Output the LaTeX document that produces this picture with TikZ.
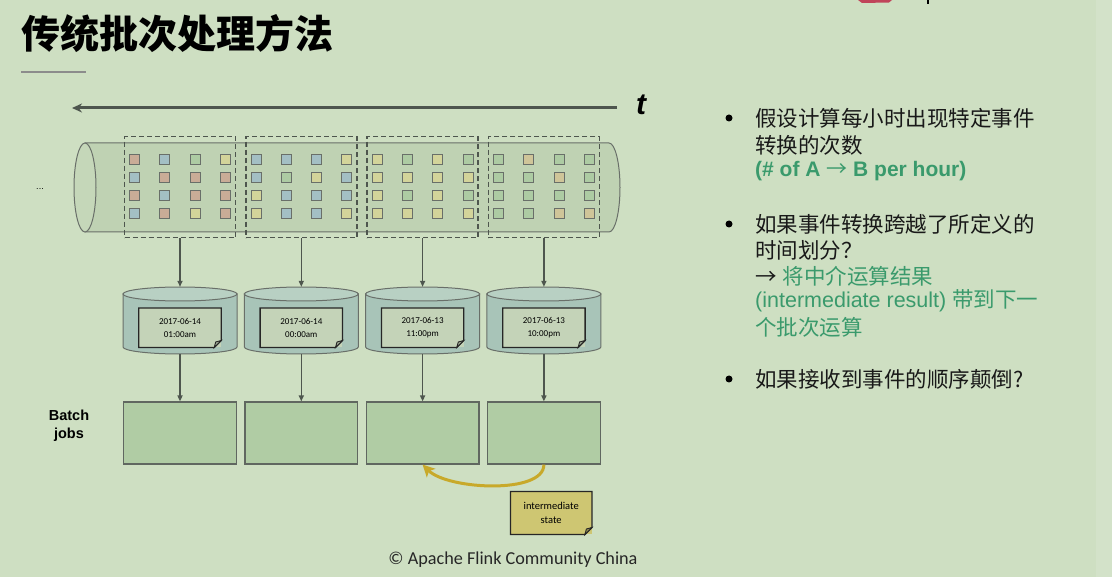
\documentclass[tikz,border=0pt]{standalone}
\usepackage{fontspec}
\setmainfont{Liberation Sans}
\newfontfamily\cjk{Noto Sans CJK SC}
\newfontfamily\calfont{Carlito}
\usetikzlibrary{arrows.meta}
\definecolor{bg}{HTML}{CEDFC2}
\definecolor{strip}{HTML}{D3E2C9}
\definecolor{linegray}{HTML}{4E564E}
\definecolor{tubefill}{HTML}{BFD2B3}
\definecolor{tubeend}{HTML}{C5D7B9}
\definecolor{cylbody}{HTML}{A8C4B8}
\definecolor{cyltop}{HTML}{B8D0C3}
\definecolor{notefill}{HTML}{C4D3B8}
\definecolor{yelnote}{HTML}{CEC672}
\definecolor{batchfill}{HTML}{B0CCA4}
\definecolor{arrowyel}{HTML}{C8A92A}
\definecolor{grn}{HTML}{3A9A6C}
\definecolor{sqB}{HTML}{C9AC97}
\definecolor{sqL}{HTML}{A3BFC4}
\definecolor{sqG}{HTML}{ADCBA3}
\definecolor{sqY}{HTML}{D3D49A}
\definecolor{sqT}{HTML}{CFC599}
\definecolor{logored}{HTML}{C0445A}
\tikzset{
  segbox/.style={draw=linegray, dashed, dash pattern=on 5pt off 3pt, line width=1.5pt, minimum width=111pt, minimum height=101pt, inner sep=0},
  cylspot/.style={minimum width=114pt, minimum height=67pt, inner sep=0},
  datenote/.style={fill=notefill, minimum width=82pt, minimum height=39pt, inner sep=0, align=center, font=\calfont\fontsize{9}{13}\selectfont},
  batchbox/.style={draw=linegray!90, fill=batchfill, line width=1.2pt, minimum width=112.6pt, minimum height=62pt, inner sep=0},
  flowarrow/.style={draw=linegray, line width=1.5pt, -{Triangle[length=6pt,width=5pt]}},
  rtext/.style={anchor=west, inner sep=0, font=\fontsize{21.5}{26}\selectfont, text=black!90},
  bulletdot/.style={circle, fill=black, inner sep=0, minimum size=7pt},
  sq/.style={draw=linegray!85, line width=0.8pt}
}
\newcommand\dogear[2]{%
  \draw[black!85, line width=1.3pt] (#1.north west) -- (#1.north east) -- ([yshift=7pt]#1.south east) -- ([xshift=-7pt]#1.south east) -- (#1.south west) -- cycle;
  \filldraw[black!85, fill=#2, line width=0.9pt] ([yshift=7pt]#1.south east) -- ([xshift=-7pt]#1.south east) -- ([xshift=-5.5pt,yshift=5.5pt]#1.south east) -- cycle;}
\begin{document}
\begin{tikzpicture}[x=1pt,y=-1pt]
\useasboundingbox (0,0) rectangle (1112,577);
\fill[bg] (0,0) rectangle (1112,577);
\fill[strip] (1096,0) rectangle (1112,577);
% partial logo at top edge
\fill[logored] (858,0) -- (892,0) -- (889,2.5) -- (862,3) -- cycle;
\fill[black] (926.5,0) rectangle (929,4.5);
% title
\node[anchor=west, inner sep=0, font=\cjk\bfseries\fontsize{39}{44}\selectfont] (title) at (21,34) {传统批次处理方法};
\coordinate (ulA) at (21,72);
\coordinate (ulB) at (86,72);
\draw[black!45, line width=1.8pt] (ulA) -- (ulB);
% time arrow
\coordinate (tR) at (617,108);
\coordinate (tL) at (72,108);
\draw[draw=linegray, line width=3pt, -{Stealth[length=10pt,width=9pt]}] (tR) -- (tL);
\node[inner sep=0, font=\bfseries\itshape\fontsize{30}{30}\selectfont] (tlab) at (641,105) {t};
% tube
\filldraw[fill=tubefill, draw=linegray!85, line width=1pt] (85,143) -- (609,143) arc[start angle=-90, end angle=90, x radius=11, y radius=44.5] -- (85,232) -- cycle;
\filldraw[fill=tubeend, draw=linegray!85, line width=1pt] (85,187.5) ellipse [x radius=11, y radius=44.5];
\node[inner sep=0, font=\fontsize{9}{9}\selectfont] (dots) at (40,189) {...};
% squares
\foreach \i/\cols in {0/{B,L,G,Y,L,B,B,B,B,L,B,B,L,B,Y,B},
                      1/{L,L,L,Y,L,G,Y,L,Y,L,L,L,Y,L,L,Y},
                      2/{Y,G,Y,G,Y,Y,Y,Y,Y,G,Y,G,Y,Y,Y,Y},
                      3/{G,T,G,G,G,G,T,G,G,G,G,G,G,G,T,T}} {
  \foreach \c [count=\k from 0] in \cols {
    \pgfmathsetmacro\row{int(\k/4)}
    \pgfmathsetmacro\col{mod(\k,4)}
    \pgfmathsetmacro\cx{180+121.3*\i-45.4+30.27*\col}
    \pgfmathsetmacro\cy{159.3+18*\row}
    \filldraw[sq, fill=sq\c] (\cx-5,\cy-5) rectangle (\cx+5,\cy+5);
  }
}
% dashed segments, cylinders, batch boxes
\foreach \i in {1,...,4} {
  \pgfmathsetmacro\X{180+121.3*(\i-1)}
  \node[segbox] (s\i) at (\X,187.2) {};
  \node[cylspot] (c\i) at (\X,320.5) {};
  \filldraw[fill=cylbody, draw=linegray!85, line width=1pt] (\X-57,294) -- (\X-57,347) arc[start angle=180, end angle=0, x radius=57, y radius=7] -- (\X+57,294) -- cycle;
  \filldraw[fill=cyltop, draw=linegray!85, line width=1pt] (\X,294) ellipse [x radius=57, y radius=7];
  \node[batchbox] (b\i) at (\X,433) {};
  \draw[flowarrow] (s\i.south) -- (c\i.north);
  \draw[flowarrow] (c\i.south) -- (b\i.north);
}
\node[datenote] (n1) at (180,327.8) {2017-06-14\\01:00am};
\node[datenote] (n2) at (301.3,327.8) {2017-06-14\\00:00am};
\node[datenote] (n3) at (422.6,327.8) {2017-06-13\\11:00pm};
\node[datenote] (n4) at (543.9,327.8) {2017-06-13\\10:00pm};
\dogear{n1}{notefill!80!black}
\dogear{n2}{notefill!80!black}
\dogear{n3}{notefill!80!black}
\dogear{n4}{notefill!80!black}
% batch label
\node[align=center, inner sep=0, font=\bfseries\fontsize{14.5}{18}\selectfont] (batch) at (69,426) {Batch\\jobs};
% intermediate state
\draw[draw=arrowyel, line width=3pt, -{Stealth[length=12pt,width=12pt,inset=3pt]}] (b4.south) .. controls +(0,30) and +(25,25) .. (b3.south);
\node[fill=yelnote, minimum width=81pt, minimum height=42.6pt, inner sep=0, align=center, font=\calfont\fontsize{10.5}{14}\selectfont] (inter) at (551.2,513) {intermediate\\state};
\dogear{inter}{yelnote!70!black}
% copyright
\node[inner sep=0, font=\calfont\fontsize{18.2}{20}\selectfont, text=black!85] (copy) at (513,560) {© Apache Flink Community China};
% right text
\node[bulletdot] (d1) at (729,118) {};
\node[bulletdot] (d2) at (729,224) {};
\node[bulletdot] (d3) at (729,379) {};
\node[rtext] (r1) at (755,118) {\cjk 假设计算每小时出现特定事件};
\node[rtext] (r2) at (755,145) {\cjk 转换的次数};
\node[rtext, text=grn, font=\bfseries\fontsize{21}{26}\selectfont] (r3) at (755,171) {(\# of A {\cjk\mdseries →} B per hour)};
\node[rtext] (r4) at (755,224) {\cjk 如果事件转换跨越了所定义的};
\node[rtext] (r5) at (755,250) {\cjk 时间划分？};
\node[rtext] (r6) at (755,276) {{\cjk →} {\cjk\color{grn}将中介运算结果}};
\node[rtext, text=grn] (r7) at (755,301) {(intermediate result) {\cjk 带到下一}};
\node[rtext, text=grn] (r8) at (755,327) {\cjk 个批次运算};
\node[rtext] (r9) at (755,379) {\cjk 如果接收到事件的顺序颠倒?};
\end{tikzpicture}
\end{document}
